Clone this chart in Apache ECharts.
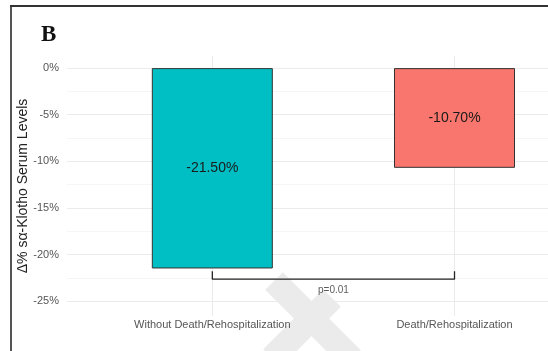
<!DOCTYPE html>
<html>
<head>
<meta charset="utf-8">
<script src="https://cdn.jsdelivr.net/npm/echarts@6/dist/echarts.min.js"></script>
<style>
  html, body { margin: 0; padding: 0; background: #fff; }
  #chart { width: 548px; height: 351px; }
</style>
</head>
<body>
<div id="chart"></div>
<script>
// 数据
var groups = ['Without Death/Rehospitalization', 'Death/Rehospitalization']
var groupPos = [1, 2]
var changes = [-21.5, -10.7]
var barColors = ['#00BFC4', '#F8766D']
var yMajor = [-25, -20, -15, -10, -5, 0]
var yGrid = [-25, -22.5, -20, -17.5, -15, -12.5, -10, -7.5, -5, -2.5, 0]
var bracketX = [1, 1, 2, 2]
var bracketY = [-21.8, -22.65, -22.65, -21.8]
var pText = 'p=0.01'
var pPos = [1.5, -23.85]

var fontColor = '#555'
var lineColor = '#ebebeb'

var myChart = echarts.init(document.getElementById('chart'))

var option = {
  animation: false,
  title: {
    text: 'B',
    left: 36,
    top: 19,
    textStyle: { fontFamily: 'Liberation Serif', fontWeight: 'bold', fontSize: 23, color: '#111' }
  },
  grid: { left: 67, right: 0, top: 56, bottom: 35, outerBoundsMode: 'none' },
  xAxis: {
    type: 'value',
    min: 0.4,
    max: 2.386,
    axisLine: { show: false },
    axisTick: { show: false, customValues: groupPos },
    splitLine: { show: true, lineStyle: { color: lineColor, width: 1 } },
    axisLabel: {
      customValues: groupPos,
      margin: 3,
      fontFamily: 'Liberation Sans',
      fontSize: 11,
      color: fontColor,
      formatter: function (v) { return groups[groupPos.indexOf(v)] || '' }
    }
  },
  yAxis: {
    type: 'value',
    min: -26.6,
    max: 1.3,
    name: 'Δ% sα-Klotho Serum Levels',
    nameLocation: 'middle',
    nameRotate: 90,
    nameGap: 37,
    nameMoveOverlap: false,
    nameTextStyle: { fontFamily: 'Liberation Sans', fontSize: 14, color: '#222' },
    axisLine: { show: false },
    axisTick: { show: false, customValues: yGrid },
    splitLine: { show: true, lineStyle: { color: [lineColor, '#f5f5f5'], width: 1 } },
    axisLabel: {
      customValues: yMajor,
      margin: 8,
      fontFamily: 'Liberation Sans',
      fontSize: 11,
      color: fontColor,
      formatter: function (v) { return Math.round(v) + '%' }
    }
  },
  series: [
    {
      type: 'bar',
      barWidth: 121,
      data: groupPos.map(function (x, i) {
        return { value: [x, changes[i]], itemStyle: { color: barColors[i] } }
      }),
      itemStyle: { borderColor: '#333', borderWidth: 1 },
      label: {
        show: true,
        position: 'inside',
        fontFamily: 'Liberation Sans',
        fontSize: 14,
        color: '#1a1a1a',
        formatter: function (p) { return p.value[1].toFixed(2) + '%' }
      },
      z: 2
    },
    {
      type: 'line',
      data: bracketX.map(function (x, i) { return [x, bracketY[i]] }),
      symbol: 'none',
      lineStyle: { color: '#222', width: 1.3 },
      z: 3
    },
    {
      type: 'scatter',
      data: [pPos],
      symbolSize: 0,
      label: {
        show: true,
        position: 'inside',
        formatter: pText,
        fontFamily: 'Liberation Sans',
        fontSize: 10,
        color: '#333'
      },
      z: 3
    }
  ],
  graphic: [
    // 边框
    { type: 'line', shape: { x1: 11, y1: 6, x2: 11, y2: 351 }, style: { stroke: '#555', lineWidth: 2 }, z: 10 },
    { type: 'line', shape: { x1: 10, y1: 6, x2: 548, y2: 6 }, style: { stroke: '#333', lineWidth: 2 }, z: 10 },
    // 水印
    { type: 'line', shape: { x1: 274, y1: 281, x2: 352, y2: 359 }, style: { stroke: '#ebebeb', lineWidth: 25 }, z: -10 },
    { type: 'line', shape: { x1: 332, y1: 298, x2: 272, y2: 358 }, style: { stroke: '#ebebeb', lineWidth: 25 }, z: -10 }
  ]
}

myChart.setOption(option, true)
</script>
</body>
</html>
